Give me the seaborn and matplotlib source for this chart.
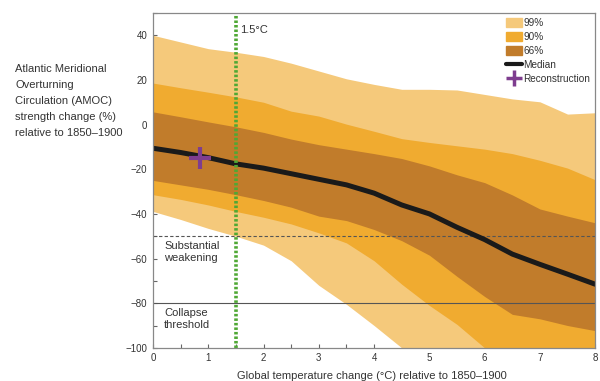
import numpy as np
import pandas as pd
import matplotlib
matplotlib.use('Agg')
import matplotlib.pyplot as plt
from matplotlib.patches import Patch
from matplotlib.lines import Line2D
from matplotlib.ticker import MultipleLocator
import seaborn as sns

sns.set_style('ticks')
plt.rcParams['font.family'] = ['Liberation Sans', 'DejaVu Sans']

# warming levels (degC above 1850-1900)
warming = [0, 0.5, 1, 1.5, 2, 2.5, 3, 3.5, 4, 4.5, 5, 5.5, 6, 6.5, 7, 7.5, 8]

# AMOC strength change (%)
median = [-10.6, -12.5, -14.8, -17.6, -19.5, -22, -24.5, -27, -30.7, -36, -40, -46, -51.5, -58, -62.6, -67, -71.5]
p66_hi = [5.7, 3.5, 1.2, -1, -3.5, -6.5, -9, -11, -13, -15.2, -18.5, -22.5, -26, -31.5, -37.8, -41, -44]
p66_lo = [-25, -27, -29, -31.4, -34, -37, -41, -43, -47, -52, -58.5, -68, -77, -85, -87, -90, -92.3]
p90_hi = [18.6, 16.5, 14.5, 12.4, 10, 6, 3.8, 0.2, -3, -6.3, -8, -9.5, -11, -13, -16, -19.5, -24.7]
p90_lo = [-31.4, -33.5, -36, -38.9, -41.5, -44.5, -48.5, -53, -61, -71.5, -81, -89.5, -100, -100, -100, -100, -100]
p99_hi = [40, 37, 34, 32.4, 30.5, 27.5, 24, 20.5, 18, 15.8, 15.8, 15.5, 13.5, 11.5, 10.2, 4.7, 5.3]
p99_lo = [-38.9, -42.5, -46.5, -50, -54, -61, -72, -80.5, -90, -100, -100, -100, -100, -100, -100, -100, -100]

recon_x = [0.85]
recon_y = [-15]

df = pd.DataFrame({'warming': warming, 'median': median})

c99 = '#F5C97B'
c90 = '#F0AB30'
c66 = '#C17C2B'
purple = '#7E3D8F'
green = '#4FA834'

fig = plt.figure(figsize=(6, 3.81), dpi=100)
ax = fig.add_axes([0.255, 0.087, 0.737, 0.879])

ax.fill_between(warming, p99_lo, p99_hi, color=c99, lw=0)
ax.fill_between(warming, p90_lo, p90_hi, color=c90, lw=0)
ax.fill_between(warming, p66_lo, p66_hi, color=c66, lw=0)

ax.axhline(-50, color='#555555', lw=0.8, ls=(0, (3, 2)))
ax.axhline(-80, color='#555555', lw=0.8)

sns.lineplot(data=df, x='warming', y='median', color='#1a1a1a', lw=3.6, ax=ax)
ax.axvline(1.5, color=green, lw=2.6, ls=(0, (0.7, 0.55)))
ax.plot(recon_x, recon_y, marker='+', color=purple, ms=16, mew=3, ls='none')

ax.set_xlim(0, 8)
ax.set_ylim(-100, 50)
ax.set_xlabel('')
ax.set_ylabel('')
ax.set_yticks([-100, -80, -60, -40, -20, 0, 20, 40])
ax.set_yticklabels(['\u2212100', '\u221280', '\u221260', '\u221240', '\u221220', '0', '20', '40'])
ax.yaxis.set_minor_locator(MultipleLocator(10))
ax.xaxis.set_major_locator(MultipleLocator(1))
ax.xaxis.set_minor_locator(MultipleLocator(0.5))
ax.tick_params(which='both', direction='in', length=3, width=0.8, color='#666666',
               labelsize=7, labelcolor='#333333', pad=4)
for s in ax.spines.values():
    s.set_color('#888888')
    s.set_linewidth(0.9)

ax.text(1.58, 44.5, '1.5\u00b0C', fontsize=8, color='#333333', va='top')
ax.text(0.2, -52.3, 'Substantial\nweakening', fontsize=8, color='#333333', va='top', linespacing=1.25)
ax.text(0.2, -82.3, 'Collapse\nthreshold', fontsize=8, color='#333333', va='top', linespacing=1.25)

fig.text(0.025, 0.832, 'Atlantic Meridional\nOverturning\nCirculation (AMOC)\nstrength change (%)\nrelative to 1850\u20131900',
         fontsize=8, color='#333333', va='top', ha='left', linespacing=1.75)
fig.text(0.62, 0.012, 'Global temperature change (\u00b0C) relative to 1850\u20131900',
         fontsize=8, color='#333333', ha='center', va='center')

handles = [Patch(color=c99, label='99%'), Patch(color=c90, label='90%'), Patch(color=c66, label='66%'),
           Line2D([], [], color='#1a1a1a', lw=3, label='Median'),
           Line2D([], [], color=purple, marker='+', ms=12, mew=2.5, ls='none', label='Reconstruction')]
ax.legend(handles=handles, loc='upper right', frameon=False, fontsize=7.2, handlelength=1.6,
          handleheight=1.0, handletextpad=0.15, labelspacing=0.4, borderaxespad=0.1,
          labelcolor='#333333')

fig.savefig('out.png', dpi=100)
